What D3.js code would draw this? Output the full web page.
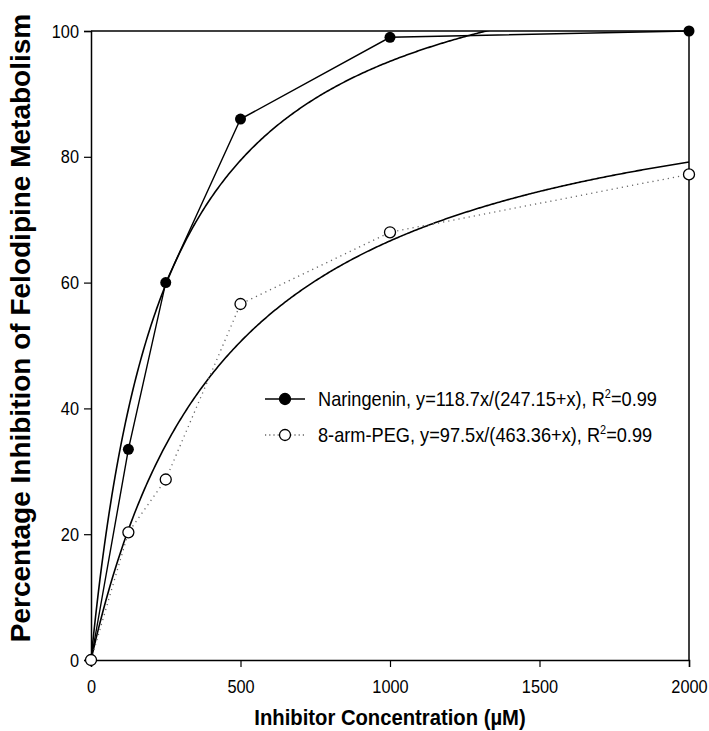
<!DOCTYPE html>
<html>
<head>
<meta charset="utf-8">
<script src="https://cdn.jsdelivr.net/npm/d3@7"></script>
<style>
body { margin: 0; background: #fff; }
svg { display: block; }
.tick text { font-family: "Liberation Sans", Arial, sans-serif; font-size: 19px; fill: #000; }
</style>
</head>
<body>
<svg id="chart" width="709" height="731"></svg>
<script>
// inhibitor concentration (uM)
var concentrations = [0, 125, 250, 500, 1000, 2000];
var naringenin = [0, 33.5, 60, 86, 99, 100];
var pegArm = [0, 20.3, 28.7, 56.6, 68, 77.2];
// fit params from legend: y = vmax*x/(km+x)
var naringeninFit = [118.7, 247.15];
var pegFit = [97.5, 463.36];
var xTicks = [0, 500, 1000, 1500, 2000];
var yTicks = [0, 20, 40, 60, 80, 100];

var svg = d3.select("#chart");
var margin = {left: 91, right: 20, top: 31, bottom: 71};
var width = 709 - margin.left - margin.right,
	height = 731 - margin.top - margin.bottom;
var narrow = "scale(0.86,1)"; //fake the condensed font of the original

var g = svg.append("g")
	.attr("transform", "translate(" + margin.left + "," + margin.top + ")");

var x = d3.scaleLinear().domain([0, 2000]).range([0, width]);
var y = d3.scaleLinear().domain([0, 100]).range([height, 0]);

g.append("clipPath").attr("id", "plotClip")
  .append("rect").attr("width", width).attr("height", height);

// frame top / right
g.append("line").attr("x1", 0).attr("x2", width).attr("y1", 0).attr("y2", 0)
	.attr("stroke", "#000").attr("stroke-width", 1.5);
g.append("line").attr("x1", width).attr("x2", width).attr("y1", 0).attr("y2", height)
	.attr("stroke", "#000").attr("stroke-width", 1.5);

var xAxis = g.append("g")
	.attr("transform", "translate(0," + height + ")")
	.call(d3.axisBottom(x).tickValues(xTicks).tickSize(7).tickPadding(13).tickFormat(d3.format("d")));
var yAxis = g.append("g")
	.call(d3.axisLeft(y).tickValues(yTicks).tickSize(7).tickPadding(7));
[xAxis, yAxis].forEach(function(a){
	a.select(".domain").attr("stroke-width", 1.5);
	a.selectAll(".tick line").attr("stroke-width", 1.2);
	a.selectAll(".tick text").attr("transform", narrow);
});

//fitted curves
function fitCurve(p){
	var pts = [];
	for (var c = 0; c <= 2000; c += 5) pts.push([c, p[0] * c / (p[1] + c)]);
	return pts;
}
var curveLine = d3.line().x(function(d){ return x(d[0]); }).y(function(d){ return y(d[1]); });

var plot = g.append("g").attr("clip-path", "url(#plotClip)");
[naringeninFit, pegFit].forEach(function(p){
	plot.append("path").datum(fitCurve(p))
		.attr("d", curveLine).attr("fill", "none")
		.attr("stroke", "#000").attr("stroke-width", 1.6);
});

var dataLine = d3.line().x(function(d, i){ return x(concentrations[i]); }).y(function(d){ return y(d); });

g.append("path").datum(naringenin).attr("d", dataLine)
	.attr("fill", "none").attr("stroke", "#000").attr("stroke-width", 1.4);
g.append("path").datum(pegArm).attr("d", dataLine)
	.attr("fill", "none").attr("stroke", "#666").attr("stroke-width", 1.3)
	.attr("stroke-dasharray", "1.2,4");

g.selectAll(".nar").data(naringenin).enter().append("circle")
	.attr("cx", function(d, i){ return x(concentrations[i]); })
	.attr("cy", function(d){ return y(d); })
	.attr("r", 5.5).attr("fill", "#000");
g.selectAll(".peg").data(pegArm).enter().append("circle")
	.attr("cx", function(d, i){ return x(concentrations[i]); })
	.attr("cy", function(d){ return y(d); })
	.attr("r", 5.5).attr("fill", "#fff").attr("stroke", "#000").attr("stroke-width", 1.3);

// legend
var font = '"Liberation Sans", Arial, sans-serif';
var legend = [
	{name: "Naringenin, y=118.7x/(247.15+x), R", fill: "#000", dash: null, color: "#000"},
	{name: "8-arm-PEG, y=97.5x/(463.36+x), R", fill: "#fff", dash: "1.2,3", color: "#666"}
];
var lg = svg.append("g").attr("transform", "translate(265,399)");
legend.forEach(function(l, i){
	var row = lg.append("g").attr("transform", "translate(0," + (i * 36) + ")");
	row.append("line").attr("x1", 0).attr("x2", 40).attr("y1", 0).attr("y2", 0)
		.attr("stroke", l.color).attr("stroke-width", 1.4).attr("stroke-dasharray", l.dash);
	row.append("circle").attr("cx", 20).attr("cy", 0).attr("r", 5.5)
		.attr("fill", l.fill).attr("stroke", "#000").attr("stroke-width", 1.3);
	var t = row.append("text").attr("transform", "translate(53,7) scale(0.91,1)")
		.style("font-family", font).style("font-size", "20px");
	t.append("tspan").text(l.name);
	t.append("tspan").attr("dy", -8).style("font-size", "12px").text("2");
	t.append("tspan").attr("dy", 8).text("=0.99");
});

// axis titles
svg.append("text")
	.attr("transform", "translate(" + (margin.left + width / 2) + ",725) scale(0.9,1)")
	.attr("text-anchor", "middle")
	.style("font-family", font).style("font-weight", "bold").style("font-size", "22.5px")
	.text("Inhibitor Concentration (\u00b5M)");
svg.append("text")
	.attr("transform", "translate(30,328) rotate(-90)")
	.attr("text-anchor", "middle")
	.style("font-family", font).style("font-weight", "bold").style("font-size", "28px")
	.text("Percentage Inhibition of Felodipine Metabolism");
</script>
</body>
</html>
